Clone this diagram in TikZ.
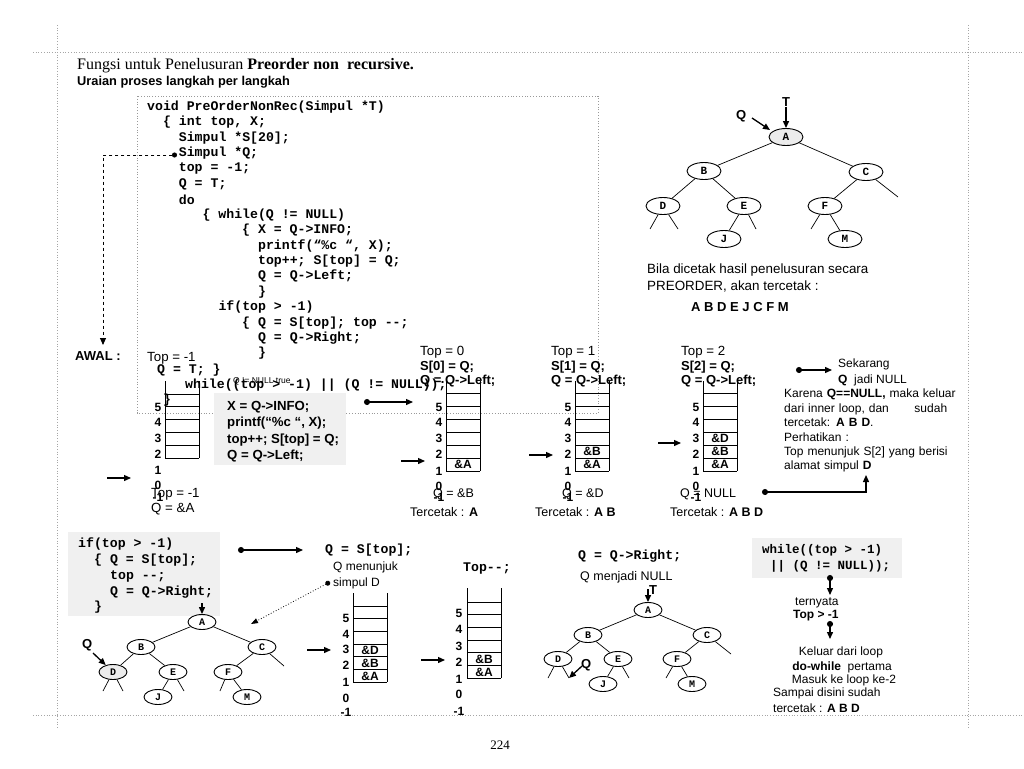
\documentclass[tikz,border=0pt]{standalone}
\usepackage{fontspec}
\setmainfont{Liberation Serif}
\newfontfamily\ssf{Liberation Sans}
\newfontfamily\mtt{Liberation Mono}
\usetikzlibrary{shapes.geometric,arrows.meta}
\tikzset{
  frame/.style={gray!70,dotted,line width=0.7pt},
  cbox/.style={gray!80,dotted,line width=0.8pt},
  txt/.style={inner sep=0pt,anchor=west,font=\ssf\fontsize{12}{14}\selectfont},
  ltxt/.style={inner sep=0pt,anchor=west,font=\ssf\fontsize{13.3}{15}\selectfont},
  btxt/.style={inner sep=0pt,anchor=west,font=\ssf\bfseries\fontsize{13}{15}\selectfont},
  ctxt/.style={inner sep=0pt,anchor=center,font=\ssf\fontsize{12}{14}\selectfont},
  code/.style={inner sep=0pt,anchor=west,font=\mtt\bfseries\fontsize{13.2}{15}\selectfont},
  scode/.style={inner sep=0pt,anchor=west,font=\mtt\bfseries\fontsize{12.5}{15}\selectfont},
  num/.style={inner sep=0pt,font=\ssf\bfseries\fontsize{12}{12}\selectfont},
  cell/.style={inner sep=0pt,font=\ssf\bfseries\fontsize{12}{12}\selectfont},
  stk/.style={line width=0.9pt},
  arr/.style={line width=1.3pt,-{Triangle[length=7pt,width=6pt]}},
  darr/.style={line width=1.3pt,{Circle[length=6pt]}-{Triangle[length=7pt,width=6pt]}},
  greybox/.style={fill=gray!12,draw=none},
  bt/.style={ellipse,draw,line width=0.9pt,minimum width=34pt,minimum height=17pt,inner sep=0pt,font=\mtt\bfseries\fontsize{11}{11}\selectfont},
  st/.style={bt,minimum width=28pt,minimum height=15pt,font=\mtt\bfseries\fontsize{10}{10}\selectfont},
  tl/.style={line width=0.7pt},
}
\begin{document}
\begin{tikzpicture}[x=1pt,y=-1pt]
\useasboundingbox (0,0) rectangle (1024,768);
% page frame
\draw[frame] (33,52) -- (1024,52);
\draw[frame] (33,715) -- (1024,715);
\draw[frame] (57,25) -- (57,728);
\draw[frame] (968,25) -- (968,728);
% titles
\node[anchor=west,inner sep=0pt,font=\fontsize{16}{18}\selectfont] (title) at (77,66) {Fungsi untuk Penelusuran \textbf{Preorder non\ \ recursive.}};
\node[btxt,font=\ssf\bfseries\fontsize{12.8}{14}\selectfont] (subtitle) at (77,82) {Uraian proses langkah per langkah};
% code box
\draw[cbox] (137,96) rectangle (598,413);
\node[code] (c0) at (147,107) {void PreOrderNonRec(Simpul *T)};
\node[code] (c1) at (162.8,122.4) {\{ int top, X;};
\node[code] (c2) at (178.7,137.8) {Simpul *S[20];};
\node[code] (c3) at (178.7,153.2) {Simpul *Q;};
\node[code] (c4) at (178.7,168.6) {top = -1;};
\node[code] (c5) at (178.7,184) {Q = T;};
\node[code] (c6) at (178.7,199.4) {do};
\node[code] (c7) at (202.4,214.8) {\{ while(Q != NULL)};
\node[code] (c8) at (242,230.2) {\{ X = Q->INFO;};
\node[code] (c9) at (257.9,245.6) {printf(“\%c “, X);};
\node[code] (c10) at (257.9,261) {top++; S[top] = Q;};
\node[code] (c11) at (257.9,276.4) {Q = Q->Left;};
\node[code] (c12) at (257.9,291.8) {\}};
\node[code] (c13) at (218.3,307.2) {if(top > -1)};
\node[code] (c14) at (242,322.6) {\{ Q = S[top]; top {-}{-};};
\node[code] (c15) at (257.9,338) {Q = Q->Right;};
\node[code] (c16) at (257.9,353.4) {\}};
\node[code] (c17) at (157,370) {Q = T; \}};
\node[code] (c18) at (185,385) {while((top > -1) || (Q != NULL));};
\node[code] (c19) at (162.8,399.6) {\}};
\node[inner sep=0pt,anchor=west,font=\ssf\fontsize{8.5}{9}\selectfont] (qnt) at (233,381) {Q != NULL true};
% dashed arrow to AWAL
\coordinate (dq) at (177,155);
\coordinate (dc) at (103,155);
\coordinate (de) at (103,345);
\draw[line width=0.9pt,dashed,{Circle[length=5pt]}-{Triangle[length=7pt,width=6pt]}] (dq) -- (dc) -- (de);
\node[btxt] (awal) at (75,356) {AWAL :};
\node[ltxt] (top1) at (147,358) {Top = -1};
% ---------- stack 1
\draw[stk] (165,381) -- (165,458) (199,381) -- (199,458);
\foreach \yy in {394,406.8,419.6,432.4,445.2,458} \draw[stk] (165,\yy) -- (199,\yy);
\foreach \n/\yy [count=\k] in {5/407,4/422,3/438,2/454,1/470,0/485,-1/497} \node[num] (sa\k) at (158,\yy) {\n};
\node[ltxt] (s1t) at (151,494) {Top = -1};
\node[ltxt] (s1q) at (151,509) {Q = \&A};
\coordinate (a1s) at (107,478); \coordinate (a1e) at (131,478);
\draw[arr] (a1s) -- (a1e);
% grey box
\fill[greybox] (214,393) rectangle (346,465);
\node[btxt,font=\ssf\bfseries\fontsize{13.2}{15}\selectfont] (g1) at (227,407) {X = Q->INFO;};
\node[btxt,font=\ssf\bfseries\fontsize{13.2}{15}\selectfont] (g2) at (227,423) {printf(“\%c “, X);};
\node[btxt,font=\ssf\bfseries\fontsize{13.2}{15}\selectfont] (g3) at (227,440) {top++; S[top] = Q;};
\node[btxt,font=\ssf\bfseries\fontsize{13.2}{15}\selectfont] (g4) at (227,456) {Q = Q->Left;};
\coordinate (a2s) at (364,402); \coordinate (a2e) at (413,402);
\draw[darr] (a2s) -- (a2e);
% ---------- stacks 2-4
\foreach \sx/\lx/\nm in {446/439/b,575/568/c,703/696/d}{
  \draw[stk] (\sx,381) -- (\sx,471) ({\sx+34},381) -- ({\sx+34},471);
  \foreach \k in {0,...,6} \draw[stk] (\sx,393+13*\k) -- ({\sx+34},393+13*\k);
  \foreach \n/\yy [count=\k] in {5/407,4/422,3/438,2/454,1/471,0/486,-1/497} \node[num] (s\nm\k) at (\lx,\yy) {\n};
}
\node[cell] (b2a) at (463,464.5) {\&A};
\node[cell] (c3b) at (592,451.5) {\&B};
\node[cell] (c3a) at (592,464.5) {\&A};
\node[cell] (d4d) at (720,438.5) {\&D};
\node[cell] (d4b) at (720,451.5) {\&B};
\node[cell] (d4a) at (720,464.5) {\&A};
\node[ltxt] (t2a) at (420,352) {Top = 0};
\node[btxt] (t2b) at (420,367) {S[0] = Q;};
\node[btxt] (t2c) at (420,381) {Q = Q->Left;};
\node[ltxt] (t3a) at (551,352) {Top = 1};
\node[btxt] (t3b) at (551,367) {S[1] = Q;};
\node[btxt] (t3c) at (551,381) {Q = Q->Left;};
\node[ltxt] (t4a) at (681,352) {Top = 2};
\node[btxt] (t4b) at (681,367) {S[2] = Q;};
\node[btxt] (t4c) at (681,381) {Q = Q->Left;};
\coordinate (a3s) at (401,461); \coordinate (a3e) at (425,461);
\draw[arr] (a3s) -- (a3e);
\coordinate (a4s) at (529,455); \coordinate (a4e) at (553,455);
\draw[arr] (a4s) -- (a4e);
\coordinate (a5s) at (658,443); \coordinate (a5e) at (681,443);
\draw[arr] (a5s) -- (a5e);
\node[ltxt,font=\ssf\fontsize{12.5}{14}\selectfont] (q2) at (433,494) {Q = \&B};
\node[ltxt,font=\ssf\fontsize{12.5}{14}\selectfont] (p2) at (410,512) {Tercetak : \textbf{A}};
\node[ltxt,font=\ssf\fontsize{12.5}{14}\selectfont] (q3) at (562,494) {Q = \&D};
\node[ltxt,font=\ssf\fontsize{12.5}{14}\selectfont] (p3) at (535,512) {Tercetak : \textbf{A B}};
\node[ltxt,font=\ssf\fontsize{12.5}{14}\selectfont] (q4) at (680,494) {Q = NULL};
\node[ltxt,font=\ssf\fontsize{12.5}{14}\selectfont] (p4) at (670,512) {Tercetak : \textbf{A B D}};
\coordinate (a6s) at (762,492); \coordinate (a6m) at (866,492); \coordinate (a6e) at (866,475);
\draw[darr] (a6s) -- (a6m) -- (a6e);
% right text
\coordinate (a7s) at (796,370); \coordinate (a7e) at (832,370);
\draw[darr] (a7s) -- (a7e);
\node[txt] (sek) at (838,364) {Sekarang};
\node[txt] (jadi) at (838,380) {\textbf{Q}\ \ jadi NULL};
\node[inner sep=0pt,anchor=north west,text width=163pt,align=left,font=\ssf\fontsize{12}{14.4}\selectfont] (ket) at (784,389)
 {\makebox[\linewidth][s]{Karena \textbf{Q==NULL,} maka keluar}\\
  \makebox[\linewidth][s]{dari inner loop, dan\hfill sudah}\\
  tercetak: \textbf{A B D}.\\
  Perhatikan :\\
  \makebox[\linewidth][s]{Top menunjuk S[2] yang berisi}\\
  alamat simpul \textbf{D}};
% ---------- top-right tree
\node[bt,fill=gray!15] (tA) at (786,137) {A};
\node[bt] (tB) at (704,171) {B};
\node[bt] (tC) at (866,172) {C};
\node[bt] (tD) at (663,206) {D};
\node[bt] (tE) at (744,206) {E};
\node[bt] (tF) at (825,206) {F};
\node[bt] (tJ) at (724,239) {J};
\node[bt] (tM) at (845,239) {M};
\draw[tl] (tA) -- (tB) (tA) -- (tC) (tB) -- (tD) (tB) -- (tE) (tC) -- (tF) (tE) -- (tJ) (tF) -- (tM);
\coordinate (tc1) at (898,197); \coordinate (td1) at (650,229); \coordinate (td2) at (678,229);
\coordinate (te1) at (756,229); \coordinate (tf1) at (811,229);
\draw[tl] (tC) -- (tc1) (tD) -- (td1) (tD) -- (td2) (tE) -- (te1) (tF) -- (tf1);
\node[btxt] (tQ) at (736,116) {Q};
\coordinate (tqs) at (752,118); \coordinate (tqe) at (770,130);
\draw[arr] (tqs) -- (tqe);
\node[btxt,anchor=center] (tT) at (786,102) {T};
\draw[arr] (tT) -- (tA);
\node[ltxt,font=\ssf\fontsize{13.4}{15}\selectfont] (bila1) at (647,270) {Bila dicetak hasil penelusuran secara};
\node[ltxt,font=\ssf\fontsize{13.4}{15}\selectfont] (bila2) at (647,286) {PREORDER, akan tercetak :};
\node[btxt] (bila3) at (691,307) {A B D E J C F M};
% ---------- bottom left
\fill[greybox] (68,532) rectangle (220,616);
\node[code] (bl1) at (78,544) {if(top > -1)};
\node[code] (bl2) at (94,560) {\{ Q = S[top];};
\node[code] (bl3) at (110,576) {top {-}{-};};
\node[code] (bl4) at (110,592) {Q = Q->Right;};
\node[code] (bl5) at (94,607) {\}};
\node[st] (lA) at (202,622) {A};
\node[st] (lB) at (141,647) {B};
\node[st] (lC) at (262,647) {C};
\node[st,fill=gray!15] (lD) at (113,672) {D};
\node[st] (lE) at (173,672) {E};
\node[st] (lF) at (228,672) {F};
\node[st] (lJ) at (158,697) {J};
\node[st] (lM) at (247,697) {M};
\draw[tl] (lA) -- (lB) (lA) -- (lC) (lB) -- (lD) (lB) -- (lE) (lC) -- (lF) (lE) -- (lJ) (lF) -- (lM);
\coordinate (ld1) at (103,691); \coordinate (ld2) at (123,691); \coordinate (le1) at (184,691);
\coordinate (lf1) at (220,691); \coordinate (lc1) at (284,666);
\draw[tl] (lD) -- (ld1) (lD) -- (ld2) (lE) -- (le1) (lF) -- (lf1) (lC) -- (lc1);
\coordinate (las) at (202,603);
\draw[arr] (las) -- (lA);
\node[btxt] (lQ) at (82,645) {Q};
\coordinate (lqs) at (93,653);
\draw[arr] (lqs) -- (lD);
% middle bottom
\coordinate (m1s) at (238,550); \coordinate (m1e) at (303,550);
\draw[darr] (m1s) -- (m1e);
\node[code] (mq) at (325,550) {Q = S[top];};
\node[txt] (mq2) at (333,567) {Q menunjuk};
\node[txt] (mq3) at (333,583) {simpul D};
\coordinate (mds) at (330,582); \coordinate (mde) at (251,624);
\draw[line width=0.8pt,dotted,{Circle[length=5pt]}-{Triangle[length=7pt,width=5pt]}] (mds) -- (mde);
% stack 5
\draw[stk] (353,593) -- (353,682.2) (387,593) -- (387,682.2);
\foreach \k in {0,...,6} \draw[stk] (353,606+12.7*\k) -- (387,606+12.7*\k);
\foreach \n/\yy [count=\k] in {5/618,4/634,3/649,2/665,1/682,0/698,-1/712} \node[num] (se\k) at (346,\yy) {\n};
\node[cell] (e5d) at (370,650.5) {\&D};
\node[cell] (e5b) at (370,663.2) {\&B};
\node[cell] (e5a) at (370,675.9) {\&A};
\coordinate (a8s) at (307,650); \coordinate (a8e) at (331,650);
\draw[arr] (a8s) -- (a8e);
% stack 6
\node[code] (topmm) at (463,569) {Top{-}{-};};
\draw[stk] (467,588) -- (467,678.2) (501,588) -- (501,678.2);
\foreach \k in {0,...,6} \draw[stk] (467,602+12.7*\k) -- (501,602+12.7*\k);
\foreach \n/\yy [count=\k] in {5/613,4/629,3/646,2/662,1/679,0/694,-1/711} \node[num] (sf\k) at (459,\yy) {\n};
\node[cell] (f6b) at (484,659.2) {\&B};
\node[cell] (f6a) at (484,671.9) {\&A};
\coordinate (a9s) at (421,660); \coordinate (a9e) at (445,660);
\draw[arr] (a9s) -- (a9e);
% ---------- bottom middle tree
\node[code] (rq) at (578,556) {Q = Q->Right;};
\node[txt,font=\ssf\fontsize{12.5}{14}\selectfont] (rq2) at (580,577) {Q menjadi NULL};
\node[st] (rA) at (648,610) {A};
\node[st] (rB) at (588,635) {B};
\node[st] (rC) at (707,635) {C};
\node[st] (rD) at (558,659) {D};
\node[st] (rE) at (618,659) {E};
\node[st] (rF) at (677,659) {F};
\node[st] (rJ) at (603,684) {J};
\node[st] (rM) at (692,684) {M};
\draw[tl] (rA) -- (rB) (rA) -- (rC) (rB) -- (rD) (rB) -- (rE) (rC) -- (rF) (rE) -- (rJ) (rF) -- (rM);
\coordinate (rc1) at (731,654); \coordinate (rd1) at (548,678); \coordinate (rd2) at (569,678);
\coordinate (re1) at (629,678); \coordinate (rf1) at (666,678);
\draw[tl] (rC) -- (rc1) (rD) -- (rd1) (rD) -- (rd2) (rE) -- (re1) (rF) -- (rf1);
\node[btxt] (rQ) at (581,665) {Q};
\coordinate (rqs) at (582,666);
\draw[arr] (rqs) -- (rd2);
\node[btxt,anchor=center] (rT) at (653,590) {T};
\coordinate (rts) at (648,589);
\draw[arr] (rts) -- (rA);
% ---------- bottom right
\fill[greybox] (752,538) rectangle (902,578);
\node[scode] (w1) at (762,550) {while((top > -1)};
\node[scode] (w2) at (770,566) {|| (Q != NULL));};
\coordinate (w3s) at (830,575); \coordinate (w3e) at (830,595);
\draw[darr] (w3s) -- (w3e);
\node[txt] (tern) at (795,603) {ternyata};
\node[btxt,font=\ssf\bfseries\fontsize{12}{14}\selectfont] (tgt) at (793,616) {Top > -1};
\coordinate (w4s) at (830,621); \coordinate (w4e) at (830,639);
\draw[darr] (w4s) -- (w4e);
\node[ctxt] (kel1) at (841,652) {Keluar dari loop};
\node[ctxt] (kel2) at (842,667) {\textbf{do-while}\ \ pertama};
\node[ctxt] (kel3) at (844,680) {Masuk ke loop ke-2};
\node[txt] (kel4) at (773,693) {Sampai disini sudah};
\node[txt] (kel5) at (773,708) {tercetak : \textbf{A B D}};
% page number
\node[inner sep=0pt,font=\fontsize{13}{14}\selectfont] (pg) at (500,745) {224};
\end{tikzpicture}
\end{document}
